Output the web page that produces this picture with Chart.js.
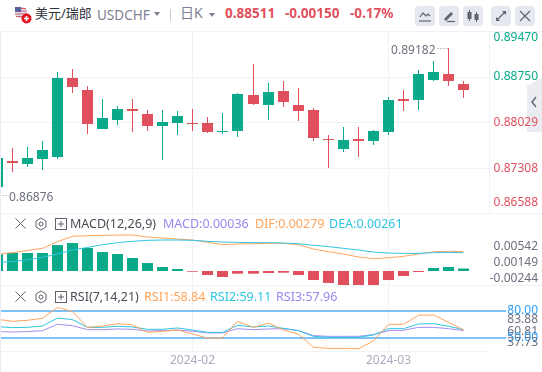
<!DOCTYPE html>
<html>
<head>
<meta charset="utf-8">
<title>USDCHF</title>
<script src="https://cdn.jsdelivr.net/npm/chart.js@4"></script>
<style>
    html, body { margin: 0; padding: 0; background: #fff; }
    body { width: 542px; height: 372px; position: relative; overflow: hidden; font-family: 'Noto Sans', 'Noto Sans CJK SC', sans-serif; }
    canvas { position: absolute; left: 0; }
    .txt { position: absolute; white-space: nowrap; line-height: 16px; font-size: 12.5px; }
    .ico { position: absolute; }
    .btn { position: absolute; top: 6px; width: 20px; height: 20px; background: #e6e8f0; border-radius: 4px; }
    .line { position: absolute; background: #f1f2f6; }
</style>
</head>
<body>
<div class="line" style="left:0;top:31px;width:542px;height:1px"></div>
<div class="line" style="left:0;top:31px;width:1px;height:341px;background:#e8eaf2"></div>
<div class="line" style="left:0;top:213px;width:542px;height:1px"></div>
<div class="line" style="left:0;top:285px;width:542px;height:1px"></div>
<svg class="ico" style="left:527px;top:78px" width="15" height="54"><path d="M15 0L0 8v46h15z" fill="#ebecf2"/><path d="M9 19l-4 5 4 5" fill="none" stroke="#5f6272" stroke-width="1.4"/></svg>

<canvas id="mainChart" width="542" height="195" style="top:25px"></canvas>
<canvas id="macdChart" width="542" height="72" style="top:213px"></canvas>
<canvas id="rsiChart" width="542" height="86" style="top:286px"></canvas>

<!-- header -->
<svg class="ico" style="left:14px;top:6px" width="18" height="18" viewBox="0 0 18 18">
    <circle cx="7" cy="6.5" r="6" fill="#d9dbe8"/>
    <rect x="1" y="1" width="6" height="5" fill="#5b5f97"/>
    <path d="M7 2.5h5M7 5h6M1 8h12M2 10.5h9" stroke="#d9616b" stroke-width="1.2"/>
    <circle cx="12.5" cy="12.5" r="5" fill="#e8121f"/>
    <path d="M12.5 10v5M10 12.5h5" stroke="#fff" stroke-width="1.6"/>
</svg>
<div class="txt" style="left:35px;top:5px;font-size:13px;color:#30323c">美元/瑞郎</div>
<div class="txt" style="left:97px;top:7px;font-size:13.5px;color:#7d8091">USDCHF</div>
<svg class="ico" style="left:154px;top:12px" width="6" height="4"><path d="M0 0h6L3 4z" fill="#7d8091"/></svg>
<div class="line" style="left:170px;top:9px;width:1px;height:12px;background:#c9ccd8"></div>
<div class="txt" style="left:180px;top:5px;font-size:14px;color:#7d8091">日K</div>
<svg class="ico" style="left:209px;top:13px" width="6" height="4"><path d="M0 0h6L3 4z" fill="#7d8091"/></svg>
<div class="txt" style="left:225px;top:5px;font-weight:700;color:#e04f5c;font-size:13.5px">0.88511</div>
<div class="txt" style="left:285px;top:5px;font-weight:700;color:#e04f5c;font-size:13.5px">-0.00150</div>
<div class="txt" style="left:350px;top:5px;font-weight:700;color:#e04f5c;font-size:13.5px">-0.17%</div>

<div class="btn" style="left:415px"><svg width="20" height="20"><path d="M5 11l3-4 3 3 2-2 2 2" fill="none" stroke="#5f6272" stroke-width="1.2"/><path d="M4 15h12" stroke="#5f6272" stroke-width="1.2"/></svg></div>
<div class="btn" style="left:439px"><svg width="20" height="20"><path d="M5 13l7-7 2 2-7 7z" fill="#5f6272"/><path d="M8 15.5h8" stroke="#5f6272" stroke-width="1.2"/></svg></div>
<div class="btn" style="left:463px"><svg width="20" height="20"><path d="M6.5 4v11M13.5 6v10" stroke="#5f6272"/><rect x="4.5" y="6" width="4" height="7" fill="#5f6272"/><rect x="11.5" y="8" width="4" height="6" fill="#5f6272"/></svg></div>
<div class="btn" style="left:491px"><svg width="20" height="20"><path d="M6 14l8-8" stroke="#5f6272" stroke-width="1.2"/><path d="M11 5h4v4zM5 11v4h4z" fill="#5f6272"/></svg></div>
<div class="btn" style="left:515px"><svg width="20" height="20"><path d="M5 5l10 10M15 5L5 15" stroke="#5f6272" stroke-width="1.2"/></svg></div>

<!-- MACD row -->
<svg class="ico" style="left:14px;top:217px" width="54" height="14" viewBox="0 0 54 14">
    <path d="M1.5 1.5l10 10M11.5 1.5l-10 10" stroke="#60636f" fill="none"/>
    <path d="M27 1l5 3v6l-5 3-5-3V4z" stroke="#60636f" fill="none"/><circle cx="27" cy="7" r="2" stroke="#60636f" fill="none"/>
    <rect x="41.5" y="1.5" width="11" height="11" stroke="#60636f" fill="none"/><path d="M44 7h6M47 4v6" stroke="#60636f"/>
</svg>
<div class="txt" style="left:70px;top:216px;color:#4a4c58">MACD(12,26,9)</div>
<div class="txt" style="left:163px;top:216px;color:#9d86f0">MACD:0.00036</div>
<div class="txt" style="left:255px;top:216px;color:#ffa45c">DIF:0.00279</div>
<div class="txt" style="left:329px;top:216px;color:#2ec5e0">DEA:0.00261</div>

<!-- RSI row -->
<svg class="ico" style="left:14px;top:290px" width="54" height="14" viewBox="0 0 54 14">
    <path d="M1.5 1.5l10 10M11.5 1.5l-10 10" stroke="#60636f" fill="none"/>
    <path d="M27 1l5 3v6l-5 3-5-3V4z" stroke="#60636f" fill="none"/><circle cx="27" cy="7" r="2" stroke="#60636f" fill="none"/>
    <rect x="41.5" y="1.5" width="11" height="11" stroke="#60636f" fill="none"/><path d="M44 7h6M47 4v6" stroke="#60636f"/>
</svg>
<div class="txt" style="left:70px;top:289px;color:#4a4c58">RSI(7,14,21)</div>
<div class="txt" style="left:144px;top:289px;color:#ffa45c">RSI1:58.84</div>
<div class="txt" style="left:210px;top:289px;color:#2ec5e0">RSI2:59.11</div>
<div class="txt" style="left:276px;top:289px;color:#9d86f0">RSI3:57.96</div>

<script>
// Nến: mở, cao, thấp, đóng
const opens  = [0.87002,0.87409,0.87361,0.87440,0.87472,0.88723,0.88533,0.87915,0.88058,0.88232,0.88153,0.87963,0.88011,0.88011,0.88011,0.87868,0.87884,0.88454,0.88296,0.88517,0.88296,0.88216,0.87757,0.87599,0.87757,0.87725,0.87868,0.88391,0.88375,0.88691,0.88786,0.88628];
const highs  = [0.87504,0.87615,0.87630,0.87725,0.88818,0.88866,0.88596,0.88391,0.88280,0.88391,0.88216,0.88216,0.88201,0.88232,0.88106,0.88169,0.88486,0.88945,0.88644,0.88676,0.88565,0.88248,0.87820,0.87947,0.87947,0.87900,0.88422,0.88533,0.88850,0.88992,0.89198,0.88676];
const lows   = [0.86876,0.87235,0.87314,0.87266,0.87440,0.88486,0.87836,0.87915,0.87979,0.87868,0.87884,0.87425,0.87820,0.87884,0.87852,0.87836,0.87789,0.88296,0.88058,0.88264,0.88042,0.87725,0.87298,0.87551,0.87472,0.87662,0.87820,0.88201,0.88216,0.88676,0.88596,0.88406];
const closes = [0.87456,0.87382,0.87456,0.87583,0.88723,0.88581,0.87995,0.88090,0.88232,0.88201,0.87963,0.88026,0.88121,0.87995,0.87868,0.87884,0.88470,0.88311,0.88501,0.88343,0.88201,0.87773,0.87741,0.87741,0.87725,0.87884,0.88375,0.88359,0.88786,0.88818,0.88676,0.88533];

const macdBars = [0.00238,0.00262,0.00257,0.00257,0.00371,0.00400,0.00329,0.00271,0.00243,0.00186,0.00114,0.00057,0.00029,-0.00010,-0.00057,-0.00086,-0.00038,-0.00038,-0.00029,-0.00024,-0.00057,-0.00129,-0.00171,-0.00200,-0.00200,-0.00200,-0.00129,-0.00071,-0.00014,0.00043,0.00057,0.00036];
const difLine  = [0.00238,0.00262,0.00295,0.00324,0.00419,0.00495,0.00505,0.00510,0.00514,0.00514,0.00486,0.00471,0.00457,0.00443,0.00410,0.00376,0.00386,0.00390,0.00395,0.00395,0.00376,0.00314,0.00276,0.00243,0.00200,0.00176,0.00190,0.00210,0.00243,0.00276,0.00281,0.00279];
const deaLine  = [0.00124,0.00133,0.00162,0.00195,0.00243,0.00300,0.00338,0.00376,0.00405,0.00424,0.00438,0.00443,0.00443,0.00438,0.00424,0.00414,0.00410,0.00405,0.00405,0.00400,0.00390,0.00367,0.00348,0.00324,0.00300,0.00271,0.00257,0.00252,0.00252,0.00262,0.00267,0.00261];

const rsi1 = [70.6,68.4,69.5,71.8,84.1,79.3,61.6,63.1,65.8,64.3,56.0,57.1,58.6,54.1,49.6,49.6,68.4,61.6,66.5,58.6,53.8,39.1,38.0,38.0,37.6,46.3,65.0,65.0,75.1,75.5,67.3,58.84];
const rsi2 = [62.4,61.3,61.6,63.1,72.1,70.3,61.6,61.6,62.8,62.0,59.4,59.4,60.9,58.6,56.0,56.0,63.9,62.0,63.1,60.5,57.9,51.5,50.4,50.4,50.4,53.0,60.1,60.1,65.4,65.8,62.8,59.11];
const rsi3 = [56.8,56.4,56.8,57.9,65.0,63.5,59.0,59.0,59.8,59.4,57.5,57.9,58.6,57.1,55.3,55.3,60.1,59.0,59.8,60.1,57.9,52.3,51.5,51.5,51.5,53.4,57.9,58.3,61.6,61.6,60.1,57.96];

// Trục
const priceTicks = [0.8947, 0.8875, 0.88029, 0.87308, 0.86588];
const macdTicks  = [0.00542, 0.00149, -0.00244];
const rsiTicks   = [83.88, 80, 60.81, 50, 37.73];
const monthIndex = [13, 26];
const monthLabels = ['2024-02', '2024-03'];
const maxLabel = '0.89182';
const minLabel = '0.86876';

const GREEN = '#0aa98a';
const RED = '#e04f5c';
const GREY = '#6d7080';
const GRID = '#f1f2f6';
const BLUE_LINE = '#7cc1f8';

// Vị trí nhãn trục lệch so với vạch, như sàn vẽ
const priceShift = [7, 0, 1, 1, -10];
const macdShift = [13.6, 2.1, -9.8];
const rsiShift = [12.5, 0, 3.4, 0, -5.6];

const isUp = opens.map((v, i) => closes[i] >= v);
const candleColors = isUp.map(u => u ? GREEN : RED);
const xy = arr => arr.map((v, i) => ({ x: i, y: v }));
const barXY = (a, b) => a.map((v, i) => ({ x: i, y: [v, b[i]] }));
const isLimit = v => v === 80 || v === 50;

// Làm tròn pixel để nến không bị nhòe
function snapPixels(s, fn) {
    const orig = s.getPixelForValue.bind(s);
    s.getPixelForValue = v => fn(orig(v));
}

function xAxis(showLabels) {
    return {
        type: 'linear',
        offset: false,
        min: 0.2434,
        max: 32.69,
        afterBuildTicks: s => { s.ticks = monthIndex.map(v => ({ value: v })); },
        afterFit: s => { s.height = showLabels ? 21 : 0; s.paddingLeft = 0; s.paddingRight = 0; },
        afterUpdate: s => snapPixels(s, p => Math.floor(p) + 0.5),
        grid: { color: GRID, drawTicks: false, offset: false },
        border: { display: showLabels, color: GRID },
        ticks: {
            display: showLabels,
            autoSkip: false,
            maxRotation: 0,
            padding: 2,
            color: '#a9adbc',
            font: { size: 12, family: 'Noto Sans' },
            callback: (v, i) => monthLabels[i]
        }
    };
}

function yFit(s) {
    s.width = 49;
    s.paddingTop = 0;
    s.paddingBottom = 0;
}

const shiftLabels = shifts => ({
    id: 'shiftLabels',
    afterLayout(chart) {
        chart.scales.y.getLabelItems().forEach((item, i) => {
            item.options.translation[1] += shifts[i];
        });
    }
});

const baseOptions = {
    responsive: false,
    animation: false,
    events: [],
    plugins: { legend: { display: false }, tooltip: { enabled: false } }
};

// Nhãn cao nhất / thấp nhất
const extremeLabels = {
    id: 'extremeLabels',
    afterDraw(chart) {
        const { ctx, scales: { x, y } } = chart;
        const hi = highs.indexOf(Math.max(...highs));
        const lo = lows.indexOf(Math.min(...lows));
        ctx.save();
        ctx.font = "12px 'Noto Sans'";
        ctx.fillStyle = GREY;
        ctx.textBaseline = 'middle';
        ctx.strokeStyle = '#8a8d9b';
        ctx.setLineDash([1, 2]);
        ctx.textAlign = 'right';
        ctx.fillText(maxLabel, x.getPixelForValue(hi) - 13, y.getPixelForValue(highs[hi]) + 2.5);
        ctx.beginPath();
        ctx.moveTo(x.getPixelForValue(hi) - 11, y.getPixelForValue(highs[hi]) + 0.5);
        ctx.lineTo(x.getPixelForValue(hi), y.getPixelForValue(highs[hi]) + 0.5);
        ctx.stroke();
        ctx.textAlign = 'left';
        ctx.fillText(minLabel, x.getPixelForValue(lo) + 11.5, y.getPixelForValue(lows[lo]) + 2.5);
        ctx.beginPath();
        ctx.moveTo(x.getPixelForValue(lo) + 5, y.getPixelForValue(lows[lo]) + 0.5);
        ctx.lineTo(x.getPixelForValue(lo) + 10, y.getPixelForValue(lows[lo]) + 0.5);
        ctx.stroke();
        ctx.restore();
    }
};

new Chart(document.getElementById('mainChart'), {
    type: 'bar',
    data: {
        datasets: [
            { data: barXY(lows, highs), backgroundColor: candleColors, barThickness: 1, grouped: false, inflateAmount: 0, order: 2 },
            { data: barXY(opens, closes), backgroundColor: candleColors, barThickness: 11, grouped: false, inflateAmount: 0, order: 1 }
        ]
    },
    options: {
        ...baseOptions,
        layout: { padding: { top: 6.3, bottom: 6.7, right: 4, left: 1 } },
        scales: {
            x: xAxis(false),
            y: {
                position: 'right',
                min: 0.86588,
                max: 0.8947,
                afterBuildTicks: s => { s.ticks = priceTicks.map(v => ({ value: v })); },
                afterFit: yFit,
                afterUpdate: s => snapPixels(s, Math.round),
                grid: { color: GRID, drawTicks: false },
                border: { color: GRID },
                ticks: {
                    padding: 4,
                    crossAlign: 'far',
                    autoSkip: false,
                    color: c => c.tick.value >= 0.88511 ? GREEN : RED,
                    font: { size: 12, family: 'Noto Sans' },
                    callback: v => v.toFixed(5)
                }
            }
        }
    },
    plugins: [shiftLabels(priceShift), extremeLabels]
});

new Chart(document.getElementById('macdChart'), {
    type: 'bar',
    data: {
        datasets: [
            { type: 'line', data: xy(difLine), borderColor: '#ffa45c', borderWidth: 1, pointRadius: 0, order: 1 },
            { type: 'line', data: xy(deaLine), borderColor: '#2ec5e0', borderWidth: 1, pointRadius: 0, order: 0 },
            { data: xy(macdBars), backgroundColor: macdBars.map(v => v >= 0 ? GREEN : RED), barThickness: 11, inflateAmount: 0, grouped: false, order: 2 }
        ]
    },
    options: {
        ...baseOptions,
        layout: { padding: { right: 4, left: 1 } },
        scales: {
            x: xAxis(false),
            y: {
                position: 'right',
                min: -0.002,
                max: 0.00829,
                afterBuildTicks: s => { s.ticks = macdTicks.map(v => ({ value: v })); },
                afterFit: yFit,
                grid: { display: false },
                border: { display: false },
                ticks: {
                    padding: 0,
                    crossAlign: 'far',
                    autoSkip: false,
                    color: GREY,
                    font: { size: 12, family: 'Noto Sans' },
                    callback: v => v.toFixed(5)
                }
            }
        }
    },
    plugins: [shiftLabels(macdShift)]
});

new Chart(document.getElementById('rsiChart'), {
    type: 'line',
    data: {
        datasets: [
            { data: xy(rsi1), borderColor: '#ffa45c', borderWidth: 1, pointRadius: 0 },
            { data: xy(rsi2), borderColor: '#2ec5e0', borderWidth: 1, pointRadius: 0 },
            { data: xy(rsi3), borderColor: '#a98cf0', borderWidth: 1, pointRadius: 0 }
        ]
    },
    options: {
        ...baseOptions,
        layout: { padding: { right: 4, left: 1 } },
        scales: {
            x: xAxis(true),
            y: {
                position: 'right',
                min: 35,
                max: 108.1,
                afterBuildTicks: s => { s.ticks = rsiTicks.map(v => ({ value: v })); },
                afterFit: yFit,
                grid: {
                    lineWidth: 2,
                    tickLength: 17,
                    color: c => (c.tick && isLimit(c.tick.value)) ? BLUE_LINE : 'transparent',
                    tickColor: c => (c.tick && isLimit(c.tick.value)) ? BLUE_LINE : 'transparent'
                },
                border: { display: false },
                ticks: {
                    padding: 0,
                    crossAlign: 'far',
                    autoSkip: false,
                    color: c => isLimit(c.tick.value) ? '#2a9cf5' : GREY,
                    font: { size: 12, family: 'Noto Sans' },
                    callback: v => v.toFixed(2)
                }
            }
        }
    },
    plugins: [shiftLabels(rsiShift)]
});
</script>
</body>
</html>
